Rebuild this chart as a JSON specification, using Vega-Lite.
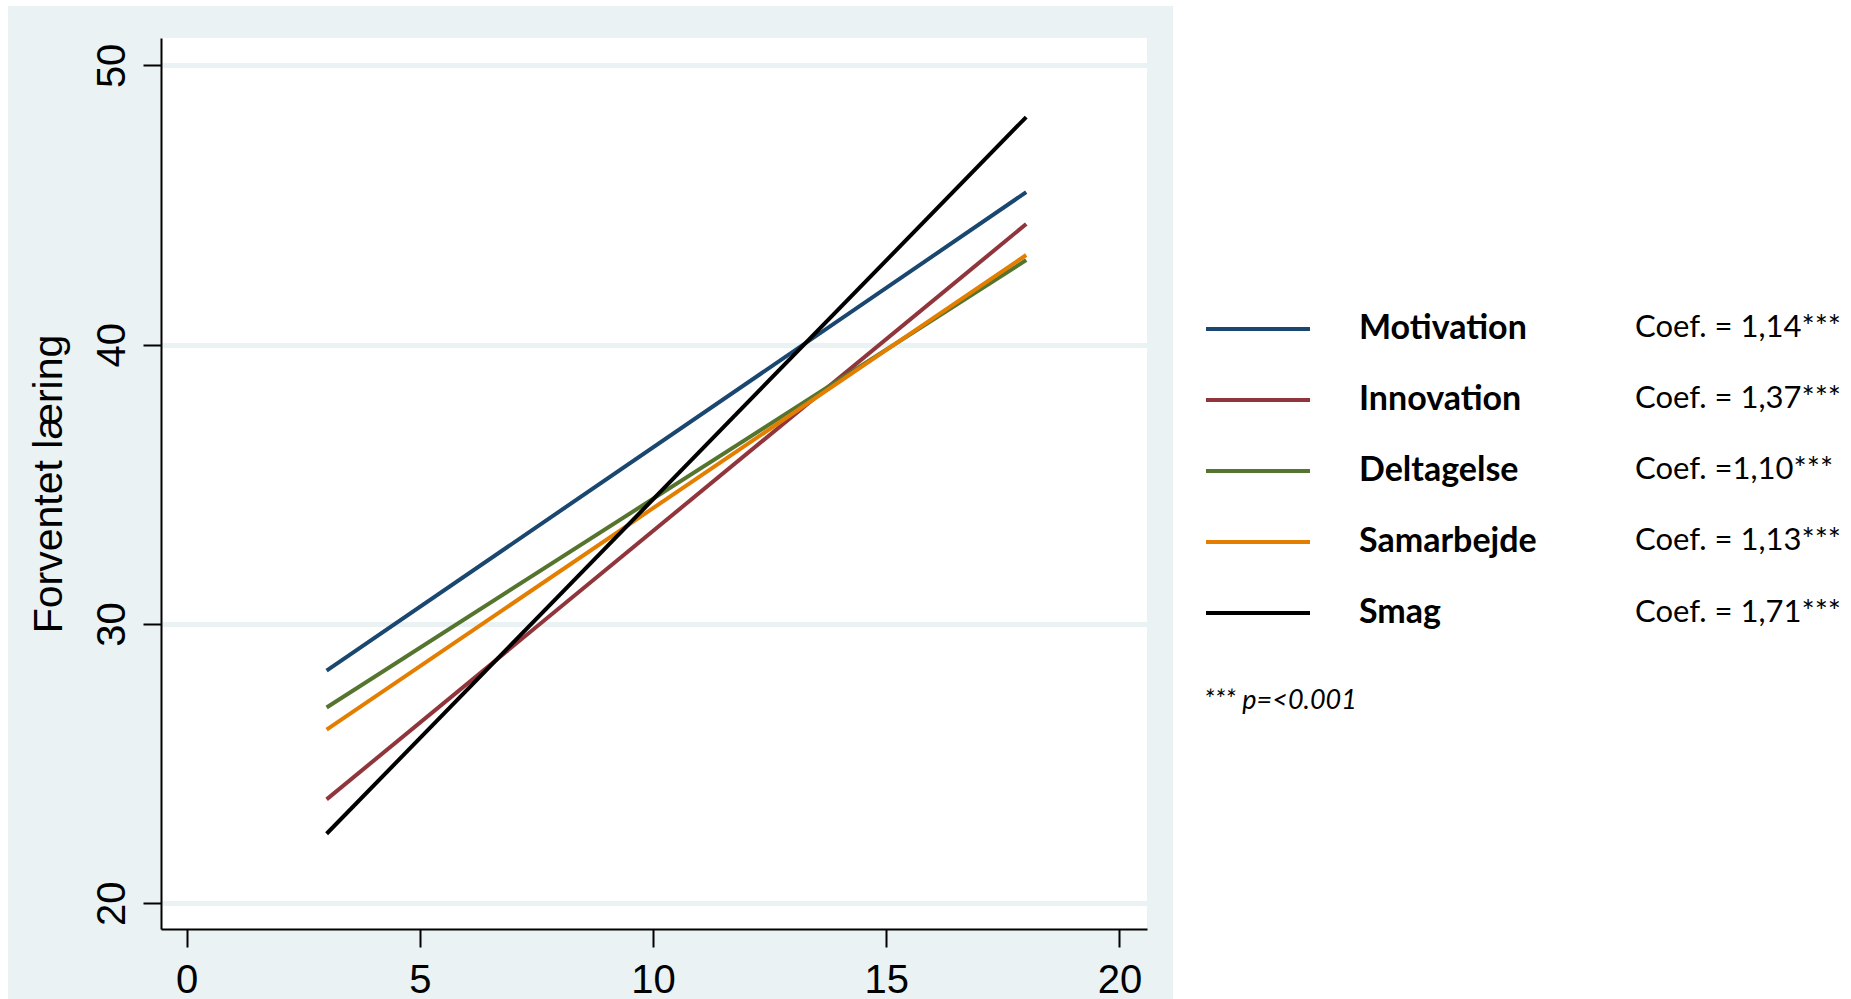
{
  "$schema": "https://vega.github.io/schema/vega-lite/v6.json",
  "width": 986,
  "height": 891,
  "autosize": {"type": "none"},
  "padding": {"left": 161, "top": 38, "right": 704, "bottom": 70},
  "background": "#EAF2F3",
  "config": {"view": {"fill": "white", "stroke": null}, "font": "Liberation Sans"},
  "data": {
    "values": [
      {"serie": "Motivation", "coef": "Coef. = 1,14***", "x": 3, "y": 28.33},
      {"serie": "Motivation", "coef": "Coef. = 1,14***", "x": 18, "y": 45.46},
      {"serie": "Innovation", "coef": "Coef. = 1,37***", "x": 3, "y": 23.72},
      {"serie": "Innovation", "coef": "Coef. = 1,37***", "x": 18, "y": 44.32},
      {"serie": "Deltagelse", "coef": "Coef. =1,10***", "x": 3, "y": 27.01},
      {"serie": "Deltagelse", "coef": "Coef. =1,10***", "x": 18, "y": 43.03},
      {"serie": "Samarbejde", "coef": "Coef. = 1,13***", "x": 3, "y": 26.22},
      {"serie": "Samarbejde", "coef": "Coef. = 1,13***", "x": 18, "y": 43.21},
      {"serie": "Smag", "coef": "Coef. = 1,71***", "x": 3, "y": 22.49},
      {"serie": "Smag", "coef": "Coef. = 1,71***", "x": 18, "y": 48.15}
    ]
  },
  "layer": [
    {
      "data": {"values": [{}]},
      "mark": {"type": "rect", "color": "white"},
      "encoding": {
        "x": {"datum": 21.147, "type": "quantitative", "scale": {"domain": [-0.551, 20.59], "nice": false, "zero": false}},
        "x2": {"datum": 40},
        "y": {"datum": 10, "type": "quantitative", "scale": {"domain": [19.08, 50.98], "nice": false, "zero": false}},
        "y2": {"datum": 60}
      }
    },
    {
      "data": {"values": [{}]},
      "mark": {"type": "rect", "color": "white"},
      "encoding": {
        "x": {"datum": -10, "type": "quantitative", "scale": {"domain": [-0.551, 20.59], "nice": false, "zero": false}},
        "x2": {"datum": -3.83},
        "y": {"datum": 10, "type": "quantitative", "scale": {"domain": [19.08, 50.98], "nice": false, "zero": false}},
        "y2": {"datum": 60}
      }
    },
    {
      "data": {"values": [{}]},
      "mark": {"type": "rect", "color": "white"},
      "encoding": {
        "x": {"datum": -10, "type": "quantitative", "scale": {"domain": [-0.551, 20.59], "nice": false, "zero": false}},
        "x2": {"datum": 40},
        "y": {"datum": 52.13, "type": "quantitative", "scale": {"domain": [19.08, 50.98], "nice": false, "zero": false}},
        "y2": {"datum": 60}
      }
    },
    {
      "mark": {"type": "line", "strokeWidth": 4},
      "encoding": {
        "x": {
          "field": "x", "type": "quantitative",
          "scale": {"domain": [-0.551, 20.59], "nice": false, "zero": false},
          "axis": {
            "values": [0, 5, 10, 15, 20], "title": null, "grid": false,
            "domainColor": "#000", "domainWidth": 2, "tickColor": "#000", "tickWidth": 2, "tickSize": 18,
            "labelFont": "Liberation Sans", "labelFontSize": 40, "labelColor": "#000",
            "labelBaseline": "alphabetic", "labelPadding": 45, "labelFlush": false, "labelOverlap": false
          }
        },
        "y": {
          "field": "y", "type": "quantitative",
          "scale": {"domain": [19.08, 50.98], "nice": false, "zero": false},
          "axis": {
            "values": [20, 30, 40, 50], "title": "Forventet læring", "grid": true,
            "gridColor": "#EAF2F3", "gridWidth": 5,
            "domainColor": "#000", "domainWidth": 2, "tickColor": "#000", "tickWidth": 2, "tickSize": 18,
            "labelAngle": 270, "labelAlign": "center", "labelBaseline": "alphabetic", "labelPadding": 19,
            "labelFont": "Liberation Sans", "labelFontSize": 40, "labelColor": "#000", "labelFlush": false, "labelOverlap": false,
            "titleFont": "Liberation Sans", "titleFontSize": 41, "titleFontWeight": "normal", "titleColor": "#000",
            "titleAngle": 270, "titleAlign": "center", "titleBaseline": "alphabetic", "titleX": -100, "titleY": 445.5
          }
        },
        "color": {
          "field": "serie", "type": "nominal",
          "scale": {"domain": ["Motivation", "Innovation", "Deltagelse", "Samarbejde", "Smag"], "range": ["#1a476f", "#90353b", "#55752f", "#e37e00", "#000000"]},
          "legend": {
            "orient": "none", "legendX": 1043, "legendY": 237,
            "title": "*** p=<0.001", "titleOrient": "bottom", "titleAnchor": "start",
            "titleFont": "Lato", "titleFontSize": 27, "titleFontStyle": "italic", "titleFontWeight": "normal", "titleColor": "#000", "titlePadding": 58,
            "symbolType": "stroke", "symbolSize": 10816, "symbolStrokeWidth": 4,
            "labelFont": "Lato", "labelFontSize": 34, "labelFontWeight": "bold", "labelColor": "#000",
            "labelOffset": 47, "rowPadding": -0.3, "labelLimit": 0
          }
        }
      }
    },
    {
      "mark": {"type": "point", "opacity": 0},
      "encoding": {
        "x": {"field": "x", "type": "quantitative", "scale": {"domain": [-0.551, 20.59], "nice": false, "zero": false}},
        "y": {"field": "y", "type": "quantitative", "scale": {"domain": [19.08, 50.98], "nice": false, "zero": false}},
        "shape": {
          "field": "coef", "type": "nominal",
          "scale": {"domain": ["Coef. = 1,14***", "Coef. = 1,37***", "Coef. =1,10***", "Coef. = 1,13***", "Coef. = 1,71***"]},
          "legend": {
            "orient": "none", "legendX": 1443, "legendY": 274, "title": null,
            "symbolSize": 0, "symbolOpacity": 0, "labelOffset": 0,
            "labelFont": "Lato", "labelFontSize": 31, "labelColor": "#000", "rowPadding": 39.3, "labelLimit": 0
          }
        }
      }
    }
  ]
}
